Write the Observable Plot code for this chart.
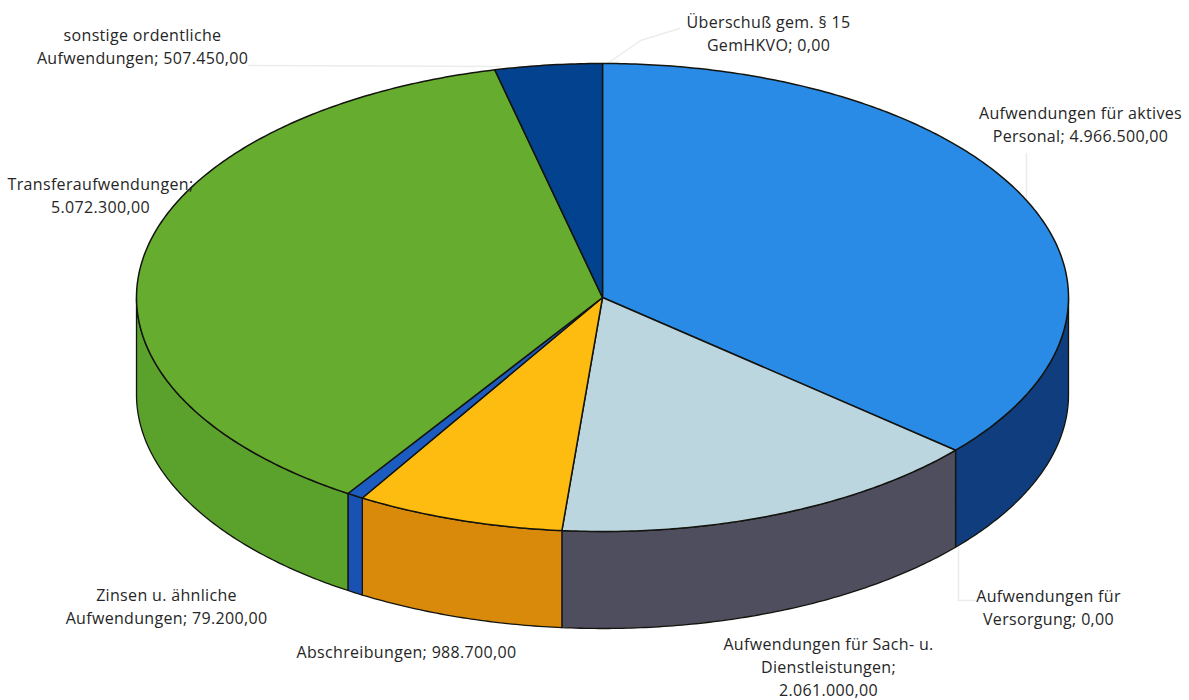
<!DOCTYPE html>
<html><head><meta charset="utf-8">
<script src="https://cdn.jsdelivr.net/npm/d3@7"></script>
<script src="https://cdn.jsdelivr.net/npm/@observablehq/plot@0.6"></script>
<style>html,body{margin:0;padding:0;background:#fff}svg{display:block}svg text{letter-spacing:.33px}</style>
</head><body><div id="chart"></div>
<script>
const categories = ["Aufwendungen für aktives Personal","Aufwendungen für Versorgung","Aufwendungen für Sach- u. Dienstleistungen","Abschreibungen","Zinsen u. ähnliche Aufwendungen","Transferaufwendungen","sonstige ordentliche Aufwendungen","Überschuß gem. § 15 GemHKVO"];
const values = [4966500,0,2061000,988700,79200,5072300,507450,0];
const topColors = ["#2a8be6","#0f3d7e","#bcd6e0","#ffbc10","#1c5cc0","#66ad2f","#03428f","#03428f"];
const sideColors = ["#0f3d7e","#0f3d7e","#4f4e5e","#d98a0a","#1a52b4","#5aa22b","#03428f","#03428f"];
const labelTexts = [
 "Aufwendungen für aktives\nPersonal; 4.966.500,00",
 "Aufwendungen für\nVersorgung; 0,00",
 "Aufwendungen für Sach- u.\nDienstleistungen;\n2.061.000,00",
 "Abschreibungen; 988.700,00",
 "Zinsen u. ähnliche\nAufwendungen; 79.200,00",
 "Transferaufwendungen;\n5.072.300,00",
 "sonstige ordentliche\nAufwendungen; 507.450,00",
 "Überschuß gem. § 15\nGemHKVO; 0,00"];
// layout (pixels)
const cx = 602, cy = 297, rx = 466, ry = 234, depth = 97;
const labelX = [1080,1048,828,406,166,100,142,768];
const labelY = [123,606,665,650,605,194,45,32];
const leaders = [
 [[248,65],[500,66]],
 [[607,63],[640,40],[679,28]],
 [[1026,153],[1026,200]],
 [[958,545],[958,600],[975,600]]
];

const total = d3.sum(values);
const px = a => cx + rx * Math.sin(a);
const py = a => cy - ry * Math.cos(a);
const arc = (a0, a1) => {
  const n = Math.max(2, Math.ceil(Math.abs(a1 - a0) / 0.01));
  return d3.range(n + 1).map(i => a0 + (a1 - a0) * i / n);
};
let cum = 0;
const slices = values.map((v, i) => {
  const a0 = cum / total * 2 * Math.PI; cum += v;
  return {i, a0, a1: cum / total * 2 * Math.PI, v};
}).filter(s => s.v > 0);

const tops = [], sides = [];
for (const s of slices) {
  tops.push({k: s.i, x: cx, y: cy});
  for (const a of arc(s.a0, s.a1)) tops.push({k: s.i, x: px(a), y: py(a)});
  tops.push({k: s.i, x: cx, y: cy});
  const lo = Math.max(s.a0, Math.PI / 2), hi = Math.min(s.a1, 3 * Math.PI / 2);
  if (hi > lo) {
    const as = arc(lo, hi);
    for (const a of as) sides.push({k: s.i, x: px(a), y: py(a)});
    for (const a of as.slice().reverse()) sides.push({k: s.i, x: px(a), y: py(a) + depth});
    sides.push({k: s.i, x: px(lo), y: py(lo)});
  }
}
const leaderRows = leaders.flatMap((l, k) => l.map(([x, y]) => ({k, x, y})));
const textRows = labelTexts.map((t, i) => ({t, x: labelX[i], y: labelY[i]}));

const chart = Plot.plot({
  width: 1189, height: 700, margin: 0,
  x: {domain: [0, 1189], range: [0, 1189], axis: null},
  y: {domain: [0, 700], range: [0, 700], axis: null},
  style: {background: "#fff"},
  marks: [
    Plot.line(leaderRows, {x: "x", y: "y", z: "k", stroke: "#ececec", strokeWidth: 1.5}),
    ...slices.filter(s => sides.some(d => d.k === s.i)).map(s =>
      Plot.line(sides.filter(d => d.k === s.i), {x: "x", y: "y", fill: sideColors[s.i], stroke: "#14140f", strokeWidth: 1.3})),
    ...slices.map(s =>
      Plot.line(tops.filter(d => d.k === s.i), {x: "x", y: "y", fill: topColors[s.i], stroke: "#14140f", strokeWidth: 1.5})),
    Plot.text(textRows, {x: "x", y: "y", text: "t", fontSize: 16, lineHeight: 1.44, fill: "#262626", fontFamily: "'Open Sans'", textAnchor: "middle"})
  ]
});
document.getElementById("chart").append(chart);
</script></body></html>
